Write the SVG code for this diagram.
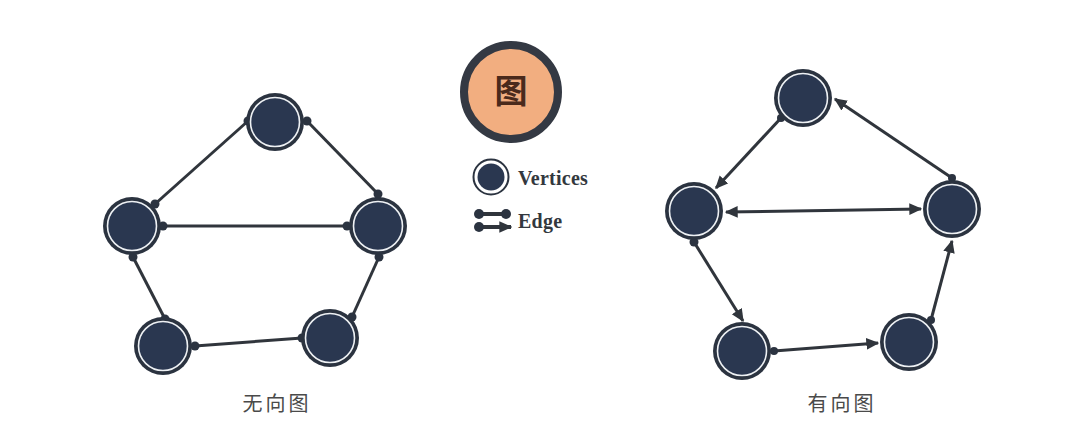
<svg xmlns="http://www.w3.org/2000/svg" width="1080" height="440" viewBox="0 0 1080 440">
<style>
.ring{fill:#2b3340}
.halo{fill:none;stroke:#eef1f4;stroke-width:1.6}
.core{fill:#2a3750}
.e{stroke:#30353c;stroke-width:3;fill:none}
.le{stroke:#30353c;stroke-width:4;fill:none}
.dot{fill:#2b3340}
.en{font-family:"Liberation Serif",serif;font-weight:700;font-size:20px;letter-spacing:.25px;fill:#33383e}
.cap{font-family:"Noto Sans CJK SC",sans-serif;font-size:20px;letter-spacing:3px;fill:#4a4a4a;text-anchor:middle}
</style>
<defs>
<marker id="ah" viewBox="0 0 10 10" refX="9" refY="5" markerWidth="13" markerHeight="13" markerUnits="userSpaceOnUse" orient="auto-start-reverse"><path d="M0 0.5L10 5L0 9.5z" fill="#30353c"/></marker>
<g id="v"><circle class="ring" r="29"/><circle class="core" r="24.500"/><circle class="halo" r="24.500"/></g>
</defs>
<rect width="1080" height="440" fill="#fff"/>
<g id="connectors">
<path class="e" d="M155 204L248 121"/><path class="e" d="M307 121L378 194"/><path class="e" d="M163 226L347 226"/><path class="e" d="M133 257L165 319"/><path class="e" d="M195 346L302 338"/><path class="e" d="M352 317L379 257"/>
<circle class="dot" cx="155" cy="204" r="4.500"/><circle class="dot" cx="248" cy="121" r="4.500"/><circle class="dot" cx="307" cy="121" r="4.500"/><circle class="dot" cx="378" cy="194" r="4.500"/><circle class="dot" cx="163" cy="226" r="4.500"/><circle class="dot" cx="347" cy="226" r="4.500"/><circle class="dot" cx="133" cy="257" r="4.500"/><circle class="dot" cx="165" cy="319" r="4.500"/><circle class="dot" cx="195" cy="346" r="4.500"/><circle class="dot" cx="302" cy="338" r="4.500"/><circle class="dot" cx="352" cy="317" r="4.500"/><circle class="dot" cx="379" cy="257" r="4.500"/>
<path class="e" d="M781 118L716 188" marker-end="url(#ah)"/>
<path class="e" d="M952 178L835 99" marker-end="url(#ah)"/>
<path class="e" d="M726 212L921 209" marker-start="url(#ah)" marker-end="url(#ah)"/>
<path class="e" d="M694 242L743 321" marker-end="url(#ah)"/>
<path class="e" d="M774 351L878 343" marker-end="url(#ah)"/>
<path class="e" d="M931 320L952 241" marker-end="url(#ah)"/>
<circle class="dot" cx="781" cy="118" r="4"/><circle class="dot" cx="952" cy="178" r="4"/><circle class="dot" cx="694" cy="242" r="4.500"/><circle class="dot" cx="774" cy="351" r="4"/><circle class="dot" cx="931" cy="320" r="4"/>
</g>
<g id="u-top"><use href="#v" x="275" y="122"/></g>
<g id="u-left"><use href="#v" x="132" y="226"/></g>
<g id="u-right"><use href="#v" x="378" y="226"/></g>
<g id="u-bl"><use href="#v" x="163" y="346"/></g>
<g id="u-br"><use href="#v" x="330" y="338"/></g>
<g id="d-top"><use href="#v" x="803" y="98"/></g>
<g id="d-left"><use href="#v" x="694" y="211"/></g>
<g id="d-right"><use href="#v" x="952" y="209"/></g>
<g id="d-bl"><use href="#v" x="742" y="351"/></g>
<g id="d-br"><use href="#v" x="909" y="342"/></g>
<g id="title"><circle cx="511" cy="92" r="47" fill="#f2ae80" stroke="#343943" stroke-width="8"/><text x="511" y="103" text-anchor="middle" font-family="'Noto Sans CJK SC',sans-serif" font-weight="700" font-size="33" fill="#4a2a1c">图</text></g>
<g id="legend-vertex"><circle cx="491" cy="177" r="17.500" fill="#fff" stroke="#2b3340" stroke-width="2"/><circle cx="491" cy="177" r="13.500" class="core"/><text class="en" x="518" y="185">Vertices</text></g>
<g id="legend-edge"><path class="le" d="M479 214L506 214"/><circle class="dot" cx="479" cy="214" r="5"/><circle class="dot" cx="506" cy="214" r="5"/><path class="le" d="M479 227L511 227" marker-end="url(#ah)"/><circle class="dot" cx="479" cy="227" r="5"/><text class="en" x="518" y="228">Edge</text></g>
<text class="cap" x="277" y="411">无向图</text>
<text class="cap" x="842" y="411">有向图</text>
</svg>
